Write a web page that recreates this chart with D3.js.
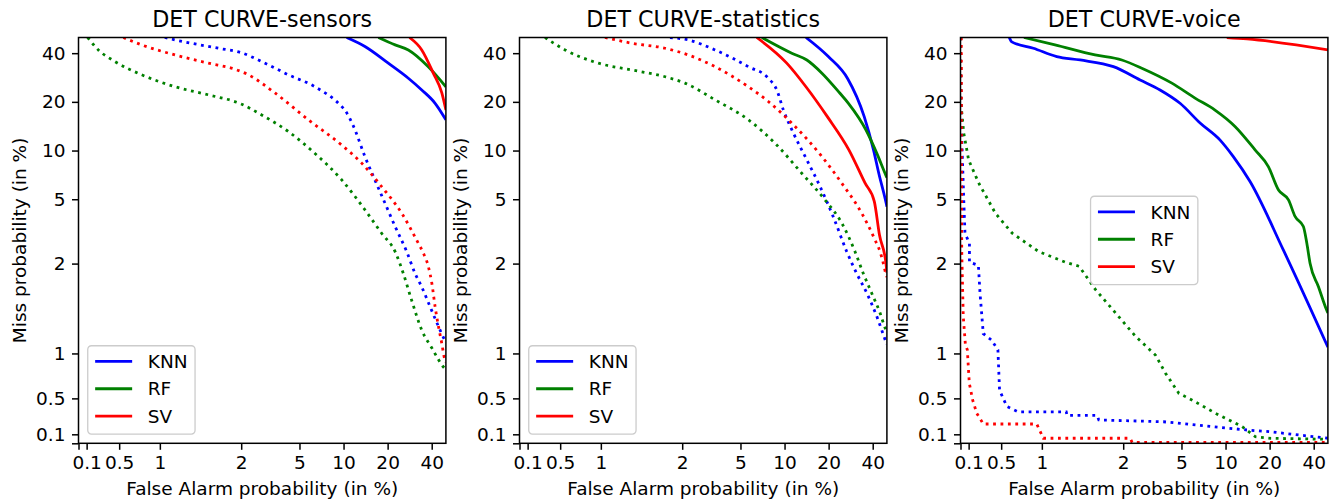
<!DOCTYPE html>
<html>
<head>
<meta charset="utf-8">
<script src="https://cdn.jsdelivr.net/npm/d3@7"></script>
<style>
  body { margin: 0; background: #fff; }
  svg text { font-family: "DejaVu Sans", sans-serif; fill: #000; }
</style>
</head>
<body>
<script>
const width = 1333;
const height = 504;

// axis ticks (percent) and their labels
const tickValues = [0, 0.1, 0.5, 1, 2, 5, 10, 20, 40];
const tickLabels = ["", "0.1", "0.5", "1", "2", "5", "10", "20", "40"];
const titles = ["DET CURVE-sensors", "DET CURVE-statistics", "DET CURVE-voice"];
const models = ["KNN", "RF", "SV"];
const colors = ["#0000ff", "#008000", "#ff0000"];

// [false alarm %, miss %]
const sensorsKNN = [[10.5,50],[14.0,44.0],[20.2,34.7],[27.7,28.0],[34.2,23.7],[42.2,19.6],[50,15.5]];
const sensorsRF = [[17.3,50],[22.5,45.0],[27.7,41.9],[37.9,33.0],[50,24.8]];
const sensorsSV = [[28.2,50],[34.2,41.9],[41.0,30.1],[46.9,22.7],[50,17.8]];
const sensorsKNNDot = [[1.06,50],[1.19,48.3],[1.72,42.9],[2.0,40.3],[2.76,35.5],[4.2,29.4],[6.38,24.8],[9.72,18.7],[10.2,17.8],[11.7,14.1],[14.0,9.17],[16.0,6.9],[19.2,4.72],[22.5,3.39],[27.0,2.37],[30.8,1.89],[34.2,1.74],[39.0,1.52],[44.5,1.30],[49.1,1.15],[50,1.13]];
const sensorsRFDot = [[0.113,50],[0.244,41.9],[0.449,35.5],[0.777,29.4],[1.187,24.8],[1.597,22.1],[2.0,19.4],[2.76,16.6],[4.2,13.1],[6.38,9.6],[9.72,6.58],[14.0,4.3],[18.2,3.08],[22.5,2.37],[25.6,1.89],[29.2,1.59],[34.2,1.26],[40.1,1.06],[48.3,0.846],[50,0.82]];
const sensorsSVDot = [[0.551,50],[0.777,45],[1.187,39.0],[1.597,34.7],[1.925,31.8],[2.24,29.4],[3.4,22.7],[5.75,15.5],[9.72,10.8],[13.3,8.36],[18.2,5.98],[25.0,4.09],[32.4,2.67],[35.1,2.32],[37.9,1.97],[40.1,1.78],[42.2,1.52],[44.5,1.30],[46.9,1.11],[48.9,0.946],[50,0.9]];

const statsKNN = [[14.0,50],[19.9,38.1],[27.0,27.8],[35.0,16.2],[40.5,10.1],[44.0,7.24],[49.5,4.7],[50,4.5]];
const statsRF = [[7.0,50],[11.2,40.0],[14.2,36.3],[18.0,30.1],[23.9,22.6],[27.3,19.6],[36.0,13.4],[42.7,9.6],[49.3,7.0],[50,6.8]];
const statsSV = [[6.46,50],[10.35,34.7],[14.0,24.8],[19.6,16.2],[27.5,10.1],[35.5,6.28],[41.0,4.85],[44.5,3.0],[49.3,2.0],[50,1.9]];
const statsKNNDot = [[1.85,50],[2.2,48.3],[3.35,41.9],[5.66,33.0],[7.75,28.0],[8.85,23.7],[9.82,17.8],[11.5,12.8],[14.2,8.75],[17.5,5.98],[21.5,3.9],[26.6,2.37],[31.1,1.89],[36.5,1.67],[42.7,1.41],[48.7,1.15],[50,1.1]];
const statsRFDot = [[0.314,50],[0.56,41.9],[0.969,34.7],[1.38,31.5],[1.79,28.6],[2.09,26.1],[3.35,20.6],[5.66,15.5],[8.61,11.1],[13.1,7.24],[18.9,4.95],[24.6,3.56],[30.3,2.37],[34.5,1.89],[39.4,1.67],[44.9,1.45],[48.7,1.28],[50,1.24]];
const statsSVDot = [[1.05,50],[1.38,46.1],[1.79,42.9],[2.2,39.0],[3.35,33.0],[5.66,24.8],[7.75,20.1],[11.8,14.1],[18.0,9.17],[24.6,6.28],[33.7,4.09],[41.5,2.8],[44.9,2.37],[47.3,2.0],[49.1,1.89],[50,1.85]];

const voiceKNN = [[0.6,50],[0.63,47],[0.896,42.9],[1.183,38.1],[1.47,36.3],[1.88,33.0],[2.61,27.3],[3.57,23.7],[4.89,19.6],[6.7,14.8],[9.18,11.6],[11.3,9.17],[14.7,6.43],[24.8,2.43],[50,1.07]];
const voiceRF = [[0.78,50],[1.162,45.0],[1.654,39.0],[1.983,36.3],[2.68,32.3],[4.3,26.1],[6.19,21.1],[8.47,17.8],[11.6,14.1],[15.9,10.1],[19.6,7.96],[23.0,5.70],[26.9,4.95],[29.9,3.90],[34.0,3.39],[35.9,2.67],[37.8,2.0],[43.1,1.743],[49.1,1.48],[50,1.45]];
const voiceSV = [[10.2,50],[14.0,49.0],[50,41.9]];
const voiceKNNDot = [[0,50],[0.005,20],[0.02,10.1],[0.04,4.95],[0.055,3.08],[0.11,2.67],[0.11,2.04],[0.22,1.98],[0.24,1.67],[0.28,1.22],[0.38,1.15],[0.46,1.04],[0.48,0.59],[0.57,0.41],[0.71,0.35],[1.3,0.35],[1.31,0.31],[1.68,0.31],[1.7,0.26],[3.76,0.24],[8.26,0.185],[14.0,0.148],[20.1,0.129],[50,0.056]];
const voiceRFDot = [[0,50],[0.005,19.6],[0.04,12.8],[0.1,8.75],[0.225,6.28],[0.43,4.09],[0.636,3.08],[0.963,2.37],[1.29,2.04],[1.458,1.97],[1.66,1.71],[1.907,1.45],[2.43,1.19],[3.33,0.98],[3.89,0.78],[4.8,0.556],[5.93,0.48],[8.55,0.334],[13.0,0.185],[16.0,0.073],[20.3,0.056],[50,0.045]];
const voiceSVDot = [[0.01,50],[0.012,10],[0.015,2.4],[0.034,1.41],[0.06,1.1],[0.084,1.04],[0.108,0.67],[0.15,0.48],[0.2,0.334],[0.28,0.215],[0.937,0.215],[1.018,0.056],[2.23,0.056],[2.3,0.011],[50,0.011]];

const panels = [
    { title: titles[0], solid: [sensorsKNN, sensorsRF, sensorsSV], dotted: [sensorsKNNDot, sensorsRFDot, sensorsSVDot], legend: "lower left", smoothDots: true },
    { title: titles[1], solid: [statsKNN, statsRF, statsSV], dotted: [statsKNNDot, statsRFDot, statsSVDot], legend: "lower left", smoothDots: true },
    { title: titles[2], solid: [voiceKNN, voiceRF, voiceSV], dotted: [voiceKNNDot, voiceRFDot, voiceSVDot], legend: "center", smoothDots: false }
];

// matplotlib style symlog (base 10, linthresh 2, linscale 1)
const linthresh = 2;
const linscaleAdj = 1 / (1 - 1 / 10);
function symlog(v) {
    const a = Math.abs(v);
    const t = a <= linthresh ? a * linscaleAdj : linthresh * (linscaleAdj + Math.log10(a / linthresh));
    return Math.sign(v) * t;
}

const marginLeft = 78.5, marginTop = 37.5;
const pw = 367.4, ph = 405.8, step = 441;
const fs = 18.5;

const x = d3.scaleLinear().domain([symlog(0), symlog(50)]).range([0, pw]);
const y = d3.scaleLinear().domain([symlog(0), symlog(50)]).range([ph, 0]);

const smoothLine = d3.line()
    .x(d => x(symlog(d[0])))
    .y(d => y(symlog(d[1])))
    .curve(d3.curveMonotoneX);
const stepLine = d3.line()
    .x(d => x(symlog(d[0])))
    .y(d => y(symlog(d[1])));

const svg = d3.select("body")
    .append("svg")
    .attr("width", width)
    .attr("height", height);

svg.append("defs").append("clipPath")
    .attr("id", "plot-clip")
    .append("rect")
    .attr("width", pw)
    .attr("height", ph);

panels.forEach((p, pi) => {
    const g = svg.append("g")
        .attr("transform", `translate(${marginLeft + pi * step},${marginTop})`);

    const plot = g.append("g").attr("clip-path", "url(#plot-clip)");

    models.forEach((m, mi) => {
        plot.append("path")
            .attr("d", smoothLine(p.solid[mi]))
            .attr("fill", "none")
            .attr("stroke", colors[mi])
            .attr("stroke-width", 2.8)
            .attr("stroke-linejoin", "round");
        plot.append("path")
            .attr("d", (p.smoothDots ? smoothLine : stepLine)(p.dotted[mi]))
            .attr("fill", "none")
            .attr("stroke", colors[mi])
            .attr("stroke-width", 2.8)
            .attr("stroke-dasharray", "2.8,4.6");
    });

    // axes
    const xAxis = d3.axisBottom(x)
        .tickValues(tickValues.map(symlog))
        .tickFormat((d, i) => tickLabels[i])
        .tickSize(6.5).tickPadding(6.5).tickSizeOuter(0);
    const yAxis = d3.axisLeft(y)
        .tickValues(tickValues.map(symlog))
        .tickFormat((d, i) => tickLabels[i])
        .tickSize(6.5).tickPadding(6.5).tickSizeOuter(0);

    [g.append("g").attr("transform", `translate(0,${ph})`).call(xAxis),
     g.append("g").call(yAxis)].forEach(a => {
        a.select(".domain").remove();
        a.attr("font-size", fs).attr("font-family", null);
        a.selectAll(".tick line").attr("stroke", "#000").attr("stroke-width", 1.5);
    });

    g.append("rect")
        .attr("width", pw)
        .attr("height", ph)
        .attr("fill", "none")
        .attr("stroke", "#000")
        .attr("stroke-width", 1.5);

    g.append("text")
        .attr("x", pw / 2)
        .attr("y", -11)
        .attr("text-anchor", "middle")
        .attr("font-size", 22.2)
        .text(p.title);

    g.append("text")
        .attr("x", pw / 2)
        .attr("y", 457)
        .attr("text-anchor", "middle")
        .attr("font-size", fs)
        .text("False Alarm probability (in %)");

    g.append("text")
        .attr("transform", `translate(-53,${ph / 2}) rotate(-90)`)
        .attr("text-anchor", "middle")
        .attr("font-size", fs)
        .text("Miss probability (in %)");

    // legend
    const lw = 107.3, lh = 88.3;
    const lx = p.legend === "center" ? (pw - lw) / 2 : 9.25;
    const ly = p.legend === "center" ? (ph - lh) / 2 : ph - 9.25 - lh;
    const leg = g.append("g").attr("transform", `translate(${lx},${ly})`);
    leg.append("rect")
        .attr("width", lw)
        .attr("height", lh)
        .attr("rx", 3.7)
        .attr("fill", "#fff")
        .attr("fill-opacity", 0.8)
        .attr("stroke", "#cccccc")
        .attr("stroke-width", 1.3);
    models.forEach((m, mi) => {
        const cy = 15.7 + mi * 27.3;
        leg.append("line")
            .attr("x1", 7.4).attr("x2", 44.4)
            .attr("y1", cy).attr("y2", cy)
            .attr("stroke", colors[mi])
            .attr("stroke-width", 2.8);
        leg.append("text")
            .attr("x", 60)
            .attr("y", cy)
            .attr("dy", "0.36em")
            .attr("font-size", fs)
            .text(m);
    });
});
</script>
</body>
</html>
